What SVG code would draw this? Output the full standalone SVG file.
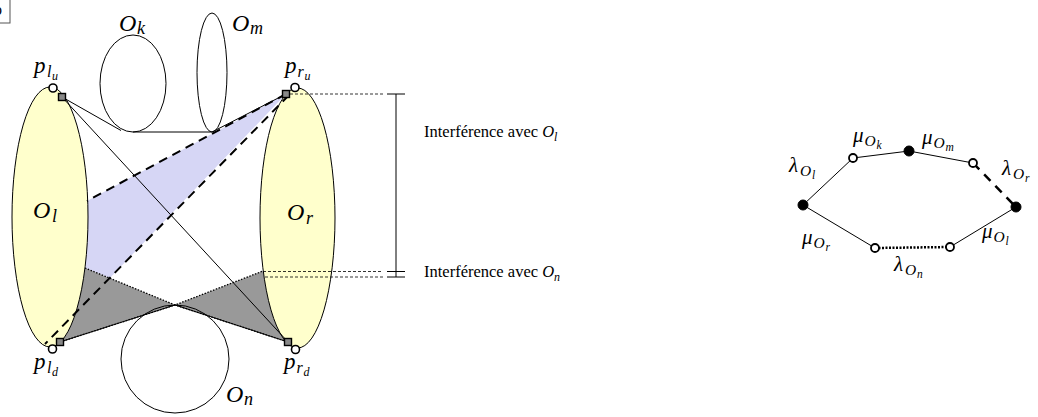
<svg xmlns="http://www.w3.org/2000/svg" width="1038" height="417" viewBox="0 0 1038 417">
<style>
.ln{stroke:#000;stroke-width:1;fill:none}
.dash{stroke:#000;stroke-width:2;stroke-dasharray:9,6;fill:none}
.dot{stroke:#000;stroke-width:1.3;stroke-dasharray:1.5,1.5;fill:none}
.hdot{stroke:#000;stroke-width:0.8;stroke-dasharray:3,2;fill:none}
.yel{fill:#ffffcc;stroke:#000;stroke-width:1}
.obs{fill:none;stroke:#000;stroke-width:1}
.pt{fill:#fff;stroke:#000;stroke-width:1.6}
.sq{fill:#888;stroke:#000;stroke-width:1.4}
.blk{fill:#000;stroke:#000;stroke-width:1}
.wht{fill:#fff;stroke:#000;stroke-width:1.8}
.m{font-family:"Liberation Serif",serif;font-style:italic;fill:#000}
.t{font-family:"Liberation Serif",serif;fill:#000}
.big{font-size:24px}
.s1{font-size:18px}
.p{font-size:23px}
.ps{font-size:16px}
.pss{font-size:12px}
.g{font-size:21px}
.gs{font-size:15.5px}
.gss{font-size:11.5px}
</style>
<g id="header">
<rect x="-20" y="-5" width="30" height="28" fill="#fff" stroke="#555" stroke-width="1"/>
<text class="t" x="-6" y="15" font-size="16">b</text>
</g>
<g id="regions">
<polygon points="286,94 87,201 87.6,230 86.8,250 85,268 110,278" fill="#d6d6f5"/>
<polygon points="175,305 85,268 81.4,290 76.5,310 71.2,325 66,335 60,342" fill="#999"/>
<polygon points="175,305 263.3,271 266.3,290 271,310 276.2,325 281.2,335 288,342" fill="#999"/>
</g>
<g id="O_l"><ellipse class="yel" cx="50" cy="217" rx="38" ry="130"/>
<text class="m big" x="33" y="218">O<tspan class="s1" x="52" y="222">l</tspan></text></g>
<g id="O_r"><ellipse class="yel" cx="297.5" cy="218" rx="37.5" ry="130"/>
<text class="m big" x="287" y="220">O<tspan class="s1" x="306" y="224">r</tspan></text></g>
<g id="O_k"><ellipse class="obs" cx="133" cy="83.5" rx="33" ry="48.5"/>
<text class="m big" x="119" y="31">O<tspan class="s1" x="137" y="34">k</tspan></text></g>
<g id="O_m"><ellipse class="obs" cx="212" cy="72.5" rx="15" ry="59.5"/>
<text class="m big" x="232" y="31">O<tspan class="s1" x="250" y="34">m</tspan></text></g>
<g id="O_n"><circle class="obs" cx="175" cy="359" r="54"/>
<text class="m big" x="226" y="402">O<tspan class="s1" x="244" y="405">n</tspan></text></g>
<g id="connectors">
<path class="ln" d="M62,97 L121,130.5 M133,132 L212,132 L286,94"/>
<path class="ln" d="M62,97 L288,342"/>
<path class="ln" d="M60,342 L175,305 L288,342"/>
<path class="dot" d="M85,268 L175,305 L263,271"/>
<path class="dot" d="M60,342 L175,305 L288,342"/>
<path class="dash" d="M286,94 L87,201"/>
<path class="dash" d="M289,95 L45,344"/>
<path class="hdot" d="M290,94 L383,94 M263,271.5 L383,271.5 M265,277 L383,277"/>
<path class="ln" d="M396,94 L396,277 M387,94 L405,94 M387,271.5 L405,271.5 M387,277 L405,277"/>
</g>
<g id="p_lu"><circle class="pt" cx="53" cy="88" r="4"/><rect class="sq" x="58.5" y="93.5" width="7" height="7"/>
<text class="m p" x="34" y="73">p<tspan class="ps" x="47" y="77">l</tspan><tspan class="pss" x="52" y="80">u</tspan></text></g>
<g id="p_ru"><circle class="pt" cx="295" cy="87.5" r="4"/><rect class="sq" x="282.5" y="90.5" width="7" height="7"/>
<text class="m p" x="285" y="73">p<tspan class="ps" x="297.5" y="77">r</tspan><tspan class="pss" x="304.5" y="80">u</tspan></text></g>
<g id="p_ld"><circle class="pt" cx="52.5" cy="349" r="4"/><rect class="sq" x="56.5" y="338.5" width="7" height="7"/>
<text class="m p" x="34" y="369">p<tspan class="ps" x="47" y="373">l</tspan><tspan class="pss" x="52" y="376">d</tspan></text></g>
<g id="p_rd"><circle class="pt" cx="295.5" cy="349.5" r="4"/><rect class="sq" x="284.5" y="338.5" width="7" height="7"/>
<text class="m p" x="284" y="369">p<tspan class="ps" x="296.5" y="373">r</tspan><tspan class="pss" x="303.5" y="376">d</tspan></text></g>
<g id="label-interference-l"><text class="t" x="424" y="137" font-size="16.5">Interférence avec <tspan class="m">O<tspan dy="4" font-size="12">l</tspan></tspan></text></g>
<g id="label-interference-n"><text class="t" x="424" y="277" font-size="16.5">Interférence avec <tspan class="m">O<tspan dy="4" font-size="12">n</tspan></tspan></text></g>
<g id="graph-connectors">
<path class="ln" d="M803,205 L853,158 L909,151 L973,163"/>
<path class="ln" d="M803,205 L875,248"/>
<path class="ln" d="M950,247 L1016,207"/>
<path stroke="#000" stroke-width="2.5" stroke-dasharray="9,7" fill="none" d="M973,163 L1016,207"/>
<path stroke="#000" stroke-width="2.5" stroke-dasharray="2,1.5" fill="none" d="M875,248 L950,247"/>
</g>
<g id="n1"><circle class="blk" cx="803" cy="205" r="5"/></g>
<g id="n2"><circle class="wht" cx="853" cy="158" r="4"/></g>
<g id="n3"><circle class="blk" cx="909" cy="151" r="5"/></g>
<g id="n4"><circle class="wht" cx="973" cy="163" r="4"/></g>
<g id="n5"><circle class="blk" cx="1016" cy="207" r="5"/></g>
<g id="n6"><circle class="wht" cx="875" cy="248" r="4"/></g>
<g id="n7"><circle class="wht" cx="950" cy="247" r="4"/></g>
<g id="graph-labels">
<text class="m g" x="789" y="172">λ<tspan class="gs" x="800" y="176">O</tspan><tspan class="gss" x="812" y="179">l</tspan></text>
<text class="m g" x="853" y="142">μ<tspan class="gs" x="864.5" y="146">O</tspan><tspan class="gss" x="876.5" y="149">k</tspan></text>
<text class="m g" x="922" y="144">μ<tspan class="gs" x="933.5" y="148">O</tspan><tspan class="gss" x="945.5" y="151">m</tspan></text>
<text class="m g" x="1002" y="175">λ<tspan class="gs" x="1013" y="179">O</tspan><tspan class="gss" x="1025" y="182">r</tspan></text>
<text class="m g" x="802" y="244">μ<tspan class="gs" x="813.5" y="248">O</tspan><tspan class="gss" x="825.5" y="251">r</tspan></text>
<text class="m g" x="894" y="271">λ<tspan class="gs" x="905" y="275">O</tspan><tspan class="gss" x="917" y="278">n</tspan></text>
<text class="m g" x="982" y="238">μ<tspan class="gs" x="993.5" y="242">O</tspan><tspan class="gss" x="1005.5" y="245">l</tspan></text>
</g>
</svg>
